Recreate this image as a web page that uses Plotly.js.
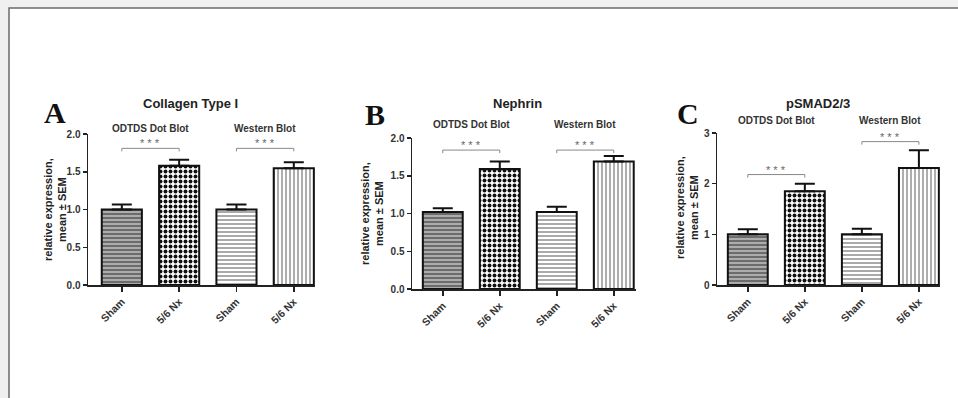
<!DOCTYPE html>
<html><head><meta charset="utf-8">
<script src="https://cdn.plot.ly/plotly-3.0.1.min.js"></script>
<style>html,body{margin:0;padding:0;background:#f0f0f0;}#chart{width:958px;height:398px;}</style>
</head><body><div id="chart"></div>
<script>
// ---- data ----
const categories = ["Sham", "5/6 Nx", "Sham", "5/6 Nx"];
const groupLabels = ["ODTDS Dot Blot", "Western Blot"];
const panelLetters = ["A", "B", "C"];
const panelTitles = ["Collagen Type I", "Nephrin", "pSMAD2/3"];
const yTitle = "relative expression,<br>mean ± SEM";
const collagenMean = [1.00, 1.58, 1.00, 1.545];
const collagenSem  = [0.065, 0.08, 0.065, 0.08];
const nephrinMean  = [1.02, 1.59, 1.02, 1.69];
const nephrinSem   = [0.05, 0.10, 0.07, 0.07];
const psmadMean    = [1.00, 1.85, 1.00, 2.31];
const psmadSem     = [0.10, 0.15, 0.11, 0.35];
const collagenBracket = [1.81, 1.81];
const nephrinBracket  = [1.84, 1.84];
const psmadBracket    = [2.18, 2.83];
const yMax = [2, 2, 3];
const yTicks = [[0, 0.5, 1, 1.5, 2], [0, 0.5, 1, 1.5, 2], [0, 1, 2, 3]];
const yTickText = [["0.0","0.5","1.0","1.5","2.0"], ["0.0","0.5","1.0","1.5","2.0"], ["0","1","2","3"]];

// ---- layout geometry (pixels) ----
const W = 958, H = 398;
const px = x => x / W, py = y => 1 - y / H;
const geo = [
  {x0: 88, x1: 315, yTop: 134, yBot: 285, range: [-0.59, 3.37], letter: [55, 112], title: [190, 103], sub: 128, ytitle: [55, 210]},
  {x0: 412, x1: 636, yTop: 138, yBot: 289, range: [-0.54, 3.39], letter: [375, 114], title: [517, 103], sub: 124, ytitle: [372, 214]},
  {x0: 717, x1: 940, yTop: 133, yBot: 285, range: [-0.54, 3.37], letter: [688, 113], title: [818, 103], sub: 121, ytitle: [687, 208]}
];
const means = [collagenMean, nephrinMean, psmadMean];
const sems = [collagenSem, nephrinSem, psmadSem];
const brackets = [collagenBracket, nephrinBracket, psmadBracket];

const FONT = "Liberation Sans, Arial, sans-serif";
const xs = categories.map((c, i) => i);
const pattern = {
  shape: ["-", ".", "-", "|"],
  bgcolor: ["#6c6c6c", "#ffffff", "#ffffff", "#ffffff"],
  fgcolor: ["#c8c8c8", "#111111", "#a0a0a0", "#9a9a9a"],
  size: [4, 5, 4, 4],
  solidity: [0.35, 0.48, 0.45, 0.4],
  fillmode: "replace"
};

const traces = [], annotations = [], shapes = [];
const layout = {
  width: W, height: H, margin: {l: 0, r: 0, t: 0, b: 0},
  paper_bgcolor: "#f0f0f0", plot_bgcolor: "rgba(0,0,0,0)",
  showlegend: false,
  font: {family: FONT, color: "#222"}
};
// white panel with grey frame
shapes.push({type: "rect", xref: "paper", yref: "paper", x0: px(9), x1: 1.02, y0: -0.02, y1: py(8),
  fillcolor: "#ffffff", line: {color: "#6a6a6a", width: 1.5}, layer: "below"});

geo.forEach((g, k) => {
  const n = k === 0 ? "" : String(k + 1);
  const xa = "x" + n, ya = "y" + n;
  traces.push({
    type: "bar", x: xs, y: means[k], xaxis: xa, yaxis: ya, width: 0.7,
    marker: {color: "#ffffff", line: {color: "#111", width: 2}, pattern: pattern},
    error_y: {type: "data", array: sems[k], arrayminus: sems[k].map(() => 0), symmetric: false,
      color: "#111", thickness: 2, width: 10},
    hoverinfo: "skip"
  });
  layout["xaxis" + n] = {
    domain: [px(g.x0), px(g.x1)], anchor: ya, range: g.range, fixedrange: true,
    tickvals: xs, ticktext: categories, tickangle: -45,
    ticks: "outside", ticklen: 5, tickwidth: 1.5, tickcolor: "#222",
    showline: true, linecolor: "#222", linewidth: 1.5, showgrid: false, zeroline: false,
    tickfont: {family: FONT, size: 10.5, weight: "bold", color: "#333"}
  };
  layout["yaxis" + n] = {
    domain: [py(g.yBot), py(g.yTop)], anchor: xa, range: [0, yMax[k]], fixedrange: true,
    tickvals: yTicks[k], ticktext: yTickText[k],
    ticks: "outside", ticklen: 4, tickwidth: 1.5, tickcolor: "#222",
    showline: true, linecolor: "#222", linewidth: 1.5, showgrid: false, zeroline: false,
    tickfont: {family: FONT, size: 10, weight: "bold", color: "#333"}
  };
  annotations.push({xref: "paper", yref: "paper", x: px(g.ytitle[0]), y: py(g.ytitle[1]),
    xanchor: "center", yanchor: "middle", textangle: -90, text: yTitle, showarrow: false,
    font: {family: FONT, size: 11, weight: "bold", color: "#222"}});
  // brackets and stars
  brackets[k].forEach((b, j) => {
    const a = 2 * j, c = 2 * j + 1;
    const drop = yMax[k] * 0.02;
    shapes.push({type: "path", xref: xa, yref: ya,
      path: `M${a},${b - drop} L${a},${b} L${c},${b} L${c},${b - drop}`,
      line: {color: "#888", width: 1}});
    annotations.push({xref: xa, yref: ya, x: (a + c) / 2, y: b, xanchor: "center", yanchor: "bottom", yshift: -3,
      text: "* * *", showarrow: false, font: {family: FONT, size: 11, color: "#666"}});
    annotations.push({xref: xa, yref: "paper", x: (a + c) / 2, y: py(g.sub), xanchor: "center", yanchor: "middle",
      text: groupLabels[j], showarrow: false, font: {family: FONT, size: 10, weight: "bold", color: "#333"}});
  });
  annotations.push({xref: "paper", yref: "paper", x: px(g.title[0]), y: py(g.title[1]), xanchor: "center", yanchor: "middle",
    text: panelTitles[k], showarrow: false, font: {family: FONT, size: 13, weight: "bold", color: "#222"}});
  annotations.push({xref: "paper", yref: "paper", x: px(g.letter[0]), y: py(g.letter[1]), xanchor: "center", yanchor: "middle",
    text: panelLetters[k], showarrow: false, font: {family: "Liberation Serif, Times New Roman, serif", size: 30, weight: "bold", color: "#111"}});
});
layout.shapes = shapes;
layout.annotations = annotations;
Plotly.newPlot("chart", traces, layout, {staticPlot: true, displayModeBar: false});
</script></body></html>
